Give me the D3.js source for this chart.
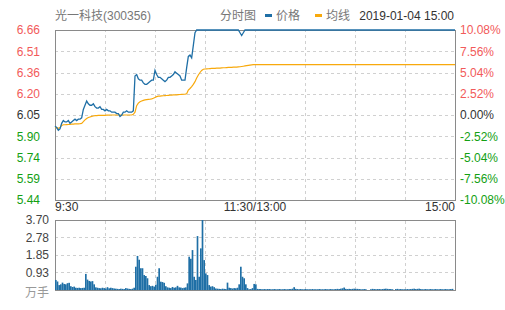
<!DOCTYPE html>
<html>
<head>
<meta charset="utf-8">
<script src="https://cdn.jsdelivr.net/npm/d3@7/dist/d3.min.js"></script>
<style>
  body{ margin:0; background:#fff; }
  svg{ display:block; font-family:Arial,"Liberation Sans","Noto Sans CJK SC",sans-serif; font-size:12px; }
</style>
</head>
<body>
<svg id="canvas" width="505" height="310"></svg>
<script>
'use strict';

/* chart data */
const stockName = '光一科技(300356)';
const chartType = '分时图';
const seriesNames = ['价格', '均线'];
const dateLabel = '2019-01-04 15:00';
const volumeUnit = '万手';
const timeLabels = ['9:30', '11:30/13:00', '15:00'];
const prevClose = 6.05;
const limitPct = 0.1008;
const priceTicks = ['6.66', '6.51', '6.36', '6.20', '6.05', '5.90', '5.74', '5.59', '5.44'];
const pctTicks = ['10.08%', '7.56%', '5.04%', '2.52%', '0.00%', '-2.52%', '-5.04%', '-7.56%', '-10.08%'];
const volTicks = ['3.70', '2.78', '1.85', '0.93'];
const volMax = 3.70;

/* minute prices, 9:30 - 11:30 */
const priceAM = [
  5.97, 5.96, 5.94, 5.95, 5.99, 6.01, 6.00, 6.00, 6.01, 5.99,
  6.00, 6.01, 6.02, 6.01, 6.02, 6.02, 6.03, 6.09, 6.12, 6.15,
  6.13, 6.12, 6.12, 6.13, 6.11, 6.10, 6.10, 6.11, 6.09, 6.09,
  6.08, 6.09, 6.08, 6.08, 6.07, 6.07, 6.07, 6.06, 6.06, 6.04,
  6.05, 6.07, 6.07, 6.08, 6.07, 6.07, 6.07, 6.08, 6.33, 6.34,
  6.31, 6.30, 6.30, 6.28, 6.27, 6.27, 6.28, 6.29, 6.30, 6.30,
  6.37, 6.34, 6.32, 6.32, 6.31, 6.30, 6.29, 6.30, 6.32, 6.32,
  6.33, 6.34, 6.36, 6.35, 6.34, 6.33, 6.30, 6.30, 6.30, 6.39,
  6.47, 6.48, 6.46, 6.55, 6.64, 6.66, 6.66, 6.66, 6.66, 6.66,
  6.66, 6.66, 6.66, 6.66, 6.66, 6.66, 6.66, 6.66, 6.66, 6.66,
  6.66, 6.66, 6.66, 6.66, 6.66, 6.66, 6.66, 6.66, 6.66, 6.66,
  6.66, 6.64, 6.62, 6.64, 6.66, 6.66, 6.66, 6.66, 6.66, 6.66,
  6.66
];
/* minute prices, 13:01 - 15:00 */
const pricePM = [
  6.66, 6.66, 6.66, 6.66, 6.66, 6.66, 6.66, 6.66, 6.66, 6.66, 6.66, 6.66, 6.66, 6.66, 6.66, 6.66, 6.66, 6.66, 6.66, 6.66,
  6.66, 6.66, 6.66, 6.66, 6.66, 6.66, 6.66, 6.66, 6.66, 6.66, 6.66, 6.66, 6.66, 6.66, 6.66, 6.66, 6.66, 6.66, 6.66, 6.66,
  6.66, 6.66, 6.66, 6.66, 6.66, 6.66, 6.66, 6.66, 6.66, 6.66, 6.66, 6.66, 6.66, 6.66, 6.66, 6.66, 6.66, 6.66, 6.66, 6.66,
  6.66, 6.66, 6.66, 6.66, 6.66, 6.66, 6.66, 6.66, 6.66, 6.66, 6.66, 6.66, 6.66, 6.66, 6.66, 6.66, 6.66, 6.66, 6.66, 6.66,
  6.66, 6.66, 6.66, 6.66, 6.66, 6.66, 6.66, 6.66, 6.66, 6.66, 6.66, 6.66, 6.66, 6.66, 6.66, 6.66, 6.66, 6.66, 6.66, 6.66,
  6.66, 6.66, 6.66, 6.66, 6.66, 6.66, 6.66, 6.66, 6.66, 6.66, 6.66, 6.66, 6.66, 6.66, 6.66, 6.66, 6.66, 6.66, 6.66, 6.66
];

/* average price line */
const avgAM = [
  5.960, 5.960, 5.955, 5.960, 5.975, 5.980, 5.980, 5.981, 5.982, 5.983,
  5.984, 5.985, 5.986, 5.986, 5.987, 5.988, 5.990, 6.002, 6.015, 6.025,
  6.032, 6.036, 6.040, 6.043, 6.045, 6.046, 6.047, 6.047, 6.048, 6.048,
  6.048, 6.049, 6.049, 6.050, 6.050, 6.050, 6.050, 6.050, 6.050, 6.050,
  6.050, 6.050, 6.050, 6.050, 6.050, 6.050, 6.050, 6.055, 6.070, 6.117,
  6.135, 6.145, 6.150, 6.155, 6.158, 6.160, 6.162, 6.163, 6.166, 6.170,
  6.176, 6.182, 6.185, 6.186, 6.187, 6.188, 6.189, 6.190, 6.191, 6.192,
  6.193, 6.194, 6.194, 6.195, 6.196, 6.197, 6.198, 6.199, 6.200, 6.202,
  6.229, 6.240, 6.253, 6.270, 6.289, 6.315, 6.337, 6.355, 6.370, 6.378,
  6.380, 6.381, 6.382, 6.383, 6.384, 6.384, 6.385, 6.386, 6.387, 6.387,
  6.388, 6.389, 6.389, 6.390, 6.391, 6.392, 6.392, 6.393, 6.394, 6.394,
  6.395, 6.396, 6.398, 6.400, 6.402, 6.404, 6.406, 6.408, 6.410, 6.411,
  6.412
];
const avgPM = [
  6.412, 6.412, 6.412, 6.412, 6.412, 6.412, 6.412, 6.412, 6.412, 6.412, 6.412, 6.412, 6.412, 6.412, 6.412, 6.412, 6.412, 6.412, 6.412, 6.412,
  6.412, 6.412, 6.412, 6.412, 6.412, 6.412, 6.412, 6.412, 6.412, 6.412, 6.412, 6.412, 6.412, 6.412, 6.412, 6.412, 6.412, 6.412, 6.412, 6.412,
  6.412, 6.412, 6.412, 6.412, 6.412, 6.412, 6.412, 6.412, 6.412, 6.412, 6.412, 6.412, 6.412, 6.412, 6.412, 6.412, 6.412, 6.412, 6.412, 6.412,
  6.412, 6.412, 6.412, 6.412, 6.412, 6.412, 6.412, 6.412, 6.412, 6.412, 6.412, 6.412, 6.412, 6.412, 6.412, 6.412, 6.412, 6.412, 6.412, 6.412,
  6.412, 6.412, 6.412, 6.412, 6.412, 6.412, 6.412, 6.412, 6.412, 6.412, 6.412, 6.412, 6.412, 6.412, 6.412, 6.412, 6.412, 6.412, 6.412, 6.412,
  6.412, 6.412, 6.412, 6.412, 6.412, 6.412, 6.412, 6.412, 6.412, 6.412, 6.412, 6.412, 6.412, 6.412, 6.412, 6.412, 6.412, 6.412, 6.412, 6.412
];

/* minute volume (万手) */
const volAM = [
  0.53, 0.45, 0.26, 0.30, 0.39, 0.32, 0.30, 0.36, 0.38, 0.20,
  0.16, 0.18, 0.12, 0.11, 0.12, 0.10, 0.11, 0.12, 0.85, 0.55,
  0.48, 0.45, 0.47, 0.30, 0.14, 0.12, 0.10, 0.09, 0.12, 0.10,
  0.08, 0.15, 0.09, 0.12, 0.10, 0.08, 0.07, 0.06, 0.05, 0.07,
  0.06, 0.05, 0.10, 0.08, 0.06, 0.05, 0.07, 0.12, 1.23, 1.80,
  1.60, 1.15, 1.15, 0.79, 0.74, 0.62, 0.26, 0.20, 0.22, 0.18,
  0.28, 0.70, 1.15, 0.44, 0.42, 0.38, 0.20, 0.14, 0.12, 0.10,
  0.16, 0.12, 0.14, 0.22, 0.14, 0.13, 0.10, 0.12, 0.14, 0.35,
  1.76, 1.65, 2.11, 0.70, 0.53, 2.85, 0.70, 2.20, 3.70, 1.58,
  0.88, 0.79, 0.26, 0.18, 0.20, 0.15, 0.08, 0.07, 0.06, 0.05,
  0.07, 0.06, 0.05, 0.39, 0.12, 0.10, 0.08, 0.10, 0.09, 0.12,
  0.30, 1.23, 0.70, 0.62, 0.30, 0.10, 0.04, 0.05, 0.10, 0.32,
  0.30
];
const volPM = [
  0.06, 0.05, 0.05, 0.04, 0.05, 0.04, 0.05, 0.05, 0.04, 0.04, 0.05, 0.04, 0.04, 0.05, 0.04, 0.04, 0.05, 0.04, 0.04, 0.05,
  0.05, 0.07, 0.15, 0.06, 0.05, 0.04, 0.05, 0.04, 0.04, 0.05, 0.04, 0.04, 0.04, 0.05, 0.04, 0.04, 0.04, 0.05, 0.04, 0.04,
  0.04, 0.05, 0.04, 0.04, 0.05, 0.04, 0.04, 0.05, 0.06, 0.05, 0.07, 0.09, 0.13, 0.06, 0.05, 0.06, 0.05, 0.06, 0.07, 0.06,
  0.06, 0.05, 0.04, 0.04, 0.05, 0.04, 0.00, 0.00, 0.04, 0.06, 0.05, 0.04, 0.05, 0.05, 0.04, 0.05, 0.06, 0.07, 0.06, 0.05,
  0.05, 0.04, 0.00, 0.05, 0.06, 0.04, 0.05, 0.04, 0.04, 0.04, 0.05, 0.04, 0.05, 0.06, 0.07, 0.05, 0.06, 0.07, 0.05, 0.04,
  0.04, 0.05, 0.04, 0.04, 0.05, 0.04, 0.04, 0.05, 0.04, 0.04, 0.05, 0.04, 0.04, 0.05, 0.04, 0.04, 0.05, 0.06, 0.00, 0.00
];

/* colours */
const blue = '#1f6fa6';
const orange = '#f8a90c';
const red = '#f25a5a';
const green = '#13a013';
const dark = '#333';
const gray = '#777';

class IntradayChart{

  constructor(){
    this._svg = d3.select('svg#canvas');
    /* plot areas: price on top, volume below */
    this._left = 55;
    this._right = 455;
    this._priceTop = 30;
    this._priceBottom = 200;
    this._volTop = 220;
    this._volBottom = 290;

    this._x = d3.scaleLinear()
      .domain([0, 240])
      .range([this._left, this._right]);
    this._y = d3.scaleLinear()
      .domain([prevClose * (1 - limitPct), prevClose * (1 + limitPct)])
      .range([this._priceBottom, this._priceTop]);
    this._vy = d3.scaleLinear()
      .domain([0, volMax])
      .range([this._volBottom, this._volTop]);
  }

  /**
   * colour for a price level, red above the previous close, green below
   */
  _levelColor(i){
    if( i < 4 ) return red;
    if( i > 4 ) return green;
    return dark;
  }

  /**
   * Dashed grid lines and border of one panel
   */
  _drawGrid(top, bottom, yValues, yScale){
    let svg = this._svg;
    let width = this._right - this._left;

    /* vertical lines every half hour */
    let xGrid = d3.axisBottom(this._x)
      .tickValues(d3.range(30, 240, 30))
      .tickSize(-(bottom - top))
      .tickFormat('')
      ;
    svg.append('g')
      .attr('class', 'grid')
      .attr('transform', 'translate(0,' + bottom + ')')
      .call(xGrid)
      ;

    /* horizontal lines */
    let yGrid = d3.axisLeft(yScale)
      .tickValues(yValues)
      .tickSize(-width)
      .tickFormat('')
      ;
    svg.append('g')
      .attr('class', 'grid')
      .attr('transform', 'translate(' + this._left + ',0)')
      .call(yGrid)
      ;

    svg.selectAll('.grid .domain').remove();
    svg.selectAll('.grid line')
      .attr('stroke', '#d0d0d0')
      .attr('stroke-dasharray', '3,3')
      .attr('shape-rendering', 'crispEdges')
      ;

    /* border */
    svg.append('rect')
      .attr('x', this._left + 0.5)
      .attr('y', top + 0.5)
      .attr('width', width)
      .attr('height', bottom - top)
      .attr('fill', 'none')
      .attr('stroke', '#8a8a8a')
      .attr('stroke-width', 1)
      ;
  }

  drawHeader(){
    let svg = this._svg;
    svg.append('text')
      .attr('x', 55).attr('y', 20)
      .attr('fill', gray)
      .text(stockName)
      ;
    svg.append('text')
      .attr('x', 220).attr('y', 20)
      .attr('fill', gray)
      .text(chartType)
      ;

    /* legend */
    let legend = [
      {name: seriesNames[0], color: blue, x: 265},
      {name: seriesNames[1], color: orange, x: 315}
    ];
    let items = svg.selectAll('g.legend')
      .data(legend)
      .enter().append('g')
        .attr('class', 'legend')
        .attr('transform', function(d){ return 'translate(' + d.x + ',0)'; })
      ;
    items.append('rect')
      .attr('x', 0).attr('y', 14)
      .attr('width', 7).attr('height', 3)
      .attr('fill', function(d){ return d.color; })
      ;
    items.append('text')
      .attr('x', 11).attr('y', 20)
      .attr('fill', gray)
      .text(function(d){ return d.name; })
      ;

    svg.append('text')
      .attr('x', 454).attr('y', 20)
      .attr('text-anchor', 'end')
      .attr('fill', dark)
      .text(dateLabel)
      ;
  }

  drawPricePanel(){
    let svg = this._svg;
    let self = this;
    let levels = priceTicks.map(function(d, i){
      return prevClose * (1 + limitPct * (4 - i) / 4);
    });

    this._drawGrid(this._priceTop, this._priceBottom, levels.slice(1, 8), this._y);

    /* left axis with prices */
    let left = d3.axisLeft(this._y)
      .tickValues(levels)
      .tickSize(0)
      .tickPadding(0)
      .tickFormat(function(d, i){ return priceTicks[i]; })
      ;
    let gl = svg.append('g')
      .attr('transform', 'translate(40,0)')
      .call(left)
      ;

    /* right axis with percentages */
    let right = d3.axisRight(this._y)
      .tickValues(levels)
      .tickSize(0)
      .tickPadding(5)
      .tickFormat(function(d, i){ return pctTicks[i]; })
      ;
    let gr = svg.append('g')
      .attr('transform', 'translate(' + this._right + ',0)')
      .call(right)
      ;

    [gl, gr].forEach(function(g){
      g.select('.domain').remove();
      g.attr('font-family', null).attr('font-size', 12);
      g.selectAll('text')
        .attr('fill', function(d, i){ return self._levelColor(i); })
        ;
    });

    /* time labels under the price panel */
    let anchors = ['start', 'middle', 'end'];
    let minutes = [0, 120, 240];
    svg.selectAll('text.time')
      .data(timeLabels)
      .enter().append('text')
        .attr('class', 'time')
        .attr('x', function(d, i){ return self._x(minutes[i]); })
        .attr('y', 211)
        .attr('text-anchor', function(d, i){ return anchors[i]; })
        .attr('fill', dark)
        .text(function(d){ return d; })
      ;

    /* average line, then price line on top */
    let avg = avgAM.concat(avgPM);
    let price = priceAM.concat(pricePM);
    let line = d3.line()
      .x(function(d, i){ return self._x(i); })
      .y(function(d){ return self._y(d); })
      ;
    svg.append('path')
      .datum(avg)
      .attr('d', line)
      .attr('fill', 'none')
      .attr('stroke', orange)
      .attr('stroke-width', 1.2)
      ;
    svg.append('path')
      .datum(price)
      .attr('d', line)
      .attr('fill', 'none')
      .attr('stroke', blue)
      .attr('stroke-width', 1.3)
      ;
  }

  drawVolumePanel(){
    let svg = this._svg;
    let self = this;
    let levels = volTicks.map(function(d){ return +d; });

    this._drawGrid(this._volTop, this._volBottom, levels.slice(1), this._vy);

    let left = d3.axisLeft(this._vy)
      .tickValues(levels)
      .tickSize(0)
      .tickPadding(0)
      .tickFormat(function(d, i){ return volTicks[i]; })
      ;
    let g = svg.append('g')
      .attr('transform', 'translate(49,0)')
      .call(left)
      ;
    g.select('.domain').remove();
    g.attr('font-family', null).attr('font-size', 12);
    g.selectAll('text').attr('fill', '#444');

    svg.append('text')
      .attr('x', 49).attr('y', 297)
      .attr('text-anchor', 'end')
      .attr('fill', '#999')
      .text(volumeUnit)
      ;

    /* one bar per minute */
    let vol = volAM.concat(volPM);
    let step = this._x(1) - this._x(0);
    svg.append('g')
      .selectAll('rect')
      .data(vol)
      .enter().append('rect')
        .attr('x', function(d, i){ return self._x(i); })
        .attr('y', function(d){ return self._vy(d); })
        .attr('width', function(d, i){ return Math.min(step, self._right - self._x(i)); })
        .attr('height', function(d){ return self._volBottom - self._vy(d); })
        .attr('fill', blue)
      ;
  }

  draw(){
    this.drawHeader();
    this.drawPricePanel();
    this.drawVolumePanel();
  }
}

new IntradayChart().draw();
</script>
</body>
</html>
